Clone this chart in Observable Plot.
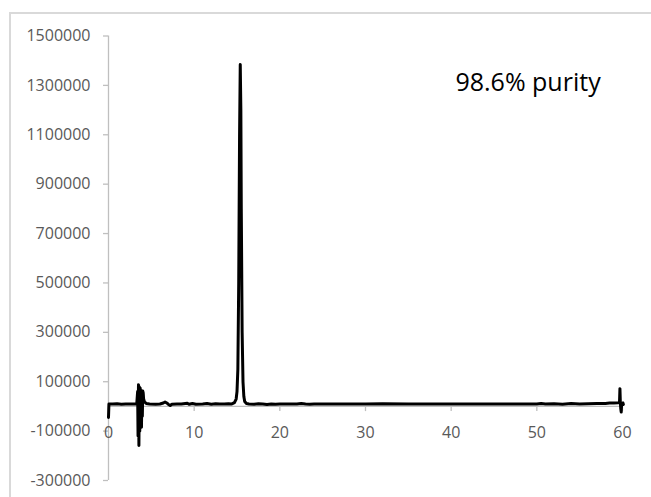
<!DOCTYPE html>
<html>
<head>
<meta charset="utf-8">
<script src="https://cdn.jsdelivr.net/npm/d3@7"></script>
<script src="https://cdn.jsdelivr.net/npm/@observablehq/plot@0.6"></script>
<style>
  html, body { margin: 0; padding: 0; background: #fff; overflow: hidden; }
  #wrap { position: relative; width: 651px; height: 497px; }
  #border { position: absolute; left: 9px; top: 12px; width: 700px; height: 600px; border: 2px solid #d9d9d9; box-sizing: border-box; }
  #chart { position: absolute; left: 0; top: 0; }
</style>
</head>
<body>
<div id="wrap"><div id="border"></div><div id="chart"></div></div>
<script>
// Retention time (min)
const times = [
  0, 0.05, 0.5, 1.0, 1.5, 2.0, 2.5, 3.0, 3.3,
  3.40, 3.45, 3.50, 3.55, 3.60, 3.65, 3.70, 3.75, 3.80, 3.85, 3.90, 3.95, 4.00, 4.05, 4.10, 4.20, 4.40,
  4.8, 5.5, 6.0, 6.4, 6.6, 6.8, 7.0, 7.2, 7.4, 8.0, 8.5, 9.2, 9.4, 9.8, 10.2, 11, 11.5, 12, 12.5, 13, 13.5, 14, 14.4,
  14.7, 14.9, 15.0, 15.1, 15.2, 15.3, 15.38, 15.45, 15.5, 15.6, 15.7, 15.8, 15.9, 16.1, 16.4,
  17, 17.5, 18, 18.5, 19, 19.5, 20, 21, 22, 22.5, 23, 23.5, 24, 27, 30, 32, 35, 40, 45, 50,
  50.5, 51, 52, 53, 54, 55, 56, 57, 58, 58.5, 59, 59.5, 59.65,
  59.7, 59.75, 59.8, 59.85, 59.9, 60.05, 60.1
];
// Detector signal
const signal = [
  -45000, 10000, 10000, 11000, 9000, 10000, 10000, 10000, 11000,
  60000, -120000, 88000, -158000, 80000, -100000, 75000, -60000, 65000, -84000, 60000, -40000, 62000, 55000, 30000, 18000, 12000,
  10000, 9000, 10000, 14000, 18000, 14000, 8000, 4000, 9000, 10000, 10000, 13000, 9000, 12000, 9000, 10000, 12000, 9000, 11000, 10000, 10000, 11000, 10000,
  15000, 30000, 60000, 150000, 500000, 1100000, 1385000, 1200000, 800000, 300000, 100000, 40000, 20000, 12000, 10000,
  9000, 11000, 10000, 8000, 10000, 9000, 10000, 10000, 10000, 12000, 10000, 9000, 10000, 10000, 10000, 11000, 10000, 10000, 10000, 10000,
  12000, 10000, 11000, 9000, 12000, 10000, 11000, 12000, 12000, 14000, 14000, 15000, 15000,
  72000, 15000, -10000, -23000, 10000, 14000, 8000
];
const xTicks = [0, 10, 20, 30, 40, 50, 60];
const yTicks = [-300000, -100000, 100000, 300000, 500000, 700000, 900000, 1100000, 1300000, 1500000];
const annotation = ["98.6% purity"];
const annotationPos = [40.5, 1310000];

const data = times.map((t, i) => ({t, v: signal[i]}));
const gray = "#bfbfbf";
const labelColor = "#595959";
const font = "'Open Sans', sans-serif";

const chart = Plot.plot({
  width: 651,
  height: 497,
  marginLeft: 108,
  marginRight: 29,
  marginTop: 35.5,
  marginBottom: 17,
  style: {fontFamily: font, background: "transparent", overflow: "visible"},
  x: {domain: [0, 60], axis: null},
  y: {domain: [-300000, 1500000], axis: null},
  marks: [
    Plot.ruleX([0], {stroke: gray, strokeWidth: 1.3}),
    Plot.axisY({ticks: yTicks, label: null, tickSize: 5, tickPadding: 13, fontSize: 16, stroke: gray, fill: labelColor, tickFormat: d => String(d), strokeWidth: 1.3}),
    Plot.ruleY([0], {stroke: gray, strokeWidth: 1.3}),
    Plot.ruleX(xTicks, {x: d => d, y1: 0, y2: -21000, stroke: gray, strokeWidth: 1.3}),
    Plot.text(xTicks, {x: d => d, y: 0, dy: 26, text: d => String(d), fontSize: 16, fill: labelColor}),
    Plot.line(data, {x: "t", y: "v", stroke: "#000", strokeWidth: 3, strokeLinejoin: "round"}),
    Plot.text(annotation, {x: annotationPos[0], y: annotationPos[1], text: d => d, textAnchor: "start", fontSize: 25, fill: "#000"})
  ]
});
document.getElementById("chart").appendChild(chart);
</script>
</body>
</html>
